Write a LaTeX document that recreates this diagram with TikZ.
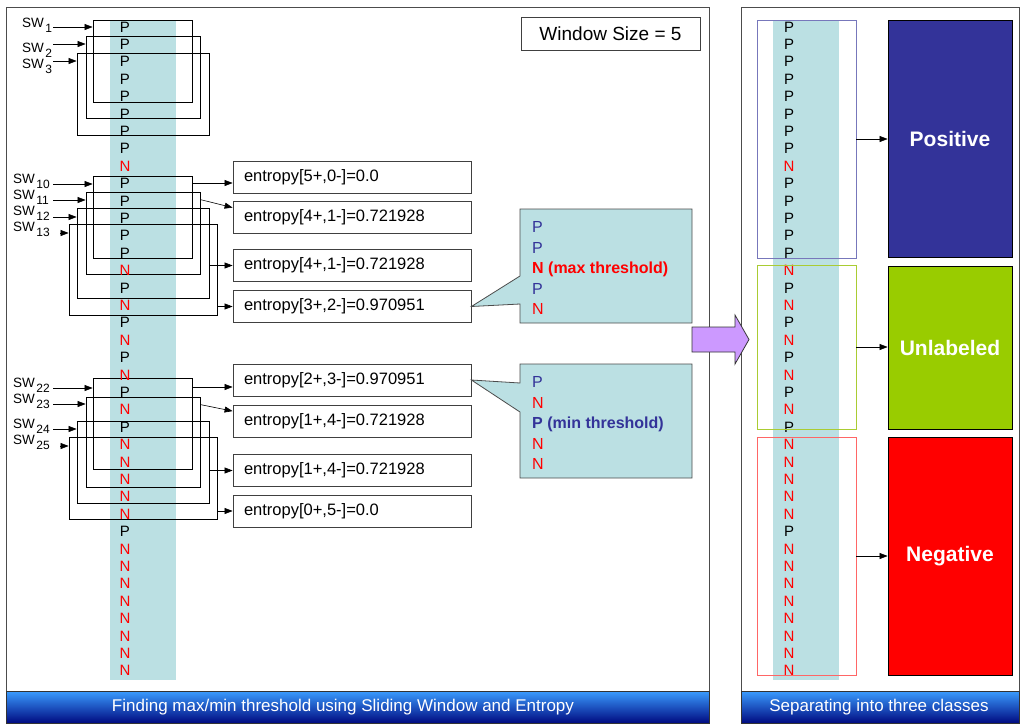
\documentclass[tikz,border=0pt]{standalone}
\usepackage{fontspec}
\setmainfont{Liberation Sans}
\usetikzlibrary{arrows.meta,calc}

\definecolor{cteal}{HTML}{BBE0E3}
\definecolor{nred}{HTML}{FF0000}
\definecolor{pblue}{HTML}{333399}
\definecolor{bantop}{HTML}{3A9CFF}
\definecolor{banbot}{HTML}{000A80}
\definecolor{purp}{HTML}{CC99FF}
\definecolor{posfill}{HTML}{333399}
\definecolor{unlfill}{HTML}{99CC00}
\definecolor{negfill}{HTML}{FF0000}
\definecolor{posline}{HTML}{7777BB}
\definecolor{unlline}{HTML}{AACC33}
\definecolor{negline}{HTML}{FF6666}

\newcommand{\swlab}[1]{SW\kern1.5pt\raisebox{-5pt}{\fontsize{12}{12}\selectfont #1}}

\begin{document}
\begin{tikzpicture}[x=1pt,y=-1pt,
    arr/.style={-{Triangle[length=8pt,width=6pt]},line width=0.6pt},
    win/.style={draw=black,line width=0.8pt,inner sep=0pt},
    ent/.style={draw=black!75,line width=0.8pt,minimum width=238pt,minimum height=32pt,inner sep=0pt,text width=216pt,align=left,font=\fontsize{16.5}{19}\selectfont},
    letP/.style={inner sep=0pt,font=\fontsize{15}{15}\selectfont},
    letN/.style={letP,text=nred},
    sw/.style={anchor=base west,inner sep=0pt,font=\fontsize{13.5}{13.5}\selectfont},
    panel/.style={draw=black!70,line width=1pt,fill=white,inner sep=0pt},
    banner/.style={top color=bantop,bottom color=banbot,draw=black!80,line width=0.6pt,inner sep=0pt,minimum height=32pt},
    bantext/.style={text=white,inner sep=0pt,font=\fontsize{17}{17}\selectfont},
    callout/.style={fill=cteal,draw=black!70,line width=0.8pt},
    ctext/.style={anchor=north west,align=left,inner sep=0pt,text=pblue,font=\fontsize{16}{20.5}\selectfont},
    grp/.style={line width=0.8pt,inner sep=0pt,minimum width=99pt},
    cls/.style={draw=black,line width=0.8pt,inner sep=0pt,minimum width=124pt,text=white,font=\bfseries\fontsize{21}{21}\selectfont}]
\useasboundingbox (0,0) rectangle (1021,724);

% panels
\node[panel,minimum width=703pt,minimum height=684pt] (pl) at (357.5,349) {};
\node[panel,minimum width=278pt,minimum height=684pt] (pr) at (880,349) {};
\node[banner,minimum width=703pt] (bl) at (357.5,707) {};
\node[banner,minimum width=278pt] (br) at (880,707) {};
\node[bantext] (tl) at (343,707) {Finding max/min threshold using Sliding Window and Entropy};
\node[bantext] (tr) at (879,707) {Separating into three classes};

\fill[cteal] (110,20) rectangle (176,680);
\fill[cteal] (773,20) rectangle (839,680);

% sliding windows
\node[win,minimum width=99pt,minimum height=82pt] (w1) at (142.5,61) {};
\node[win,minimum width=114pt,minimum height=82pt] (w2) at (143,77) {};
\node[win,minimum width=132pt,minimum height=82pt] (w3) at (143,94) {};

\node[win,minimum width=99pt,minimum height=82pt] (w10) at (142.5,217) {};
\node[win,minimum width=114pt,minimum height=82pt] (w11) at (143,233) {};
\node[win,minimum width=132pt,minimum height=90pt] (w12) at (143,253) {};
\node[win,minimum width=148pt,minimum height=91pt] (w13) at (143,269.5) {};

\node[win,minimum width=99pt,minimum height=91pt] (w22) at (142.5,423.5) {};
\node[win,minimum width=114pt,minimum height=90pt] (w23) at (143,442) {};
\node[win,minimum width=132pt,minimum height=82pt] (w24) at (143,462) {};
\node[win,minimum width=148pt,minimum height=82pt] (w25) at (143,478) {};

% class sequence
\foreach \c [count=\i from 0] in {P,P,P,P,P,P,P,P,N,P,P,P,P,P,N,P,N,P,N,P,N,P,N,P,N,N,N,N,N,P,N,N,N,N,N,N,N,N}{
    \node[let\c] (a\i) at (125,{27+17.4*\i}) {\c};
    \node[let\c] (b\i) at (789,{27+17.4*\i}) {\c};
}

\node[sw] (s1) at (22,27) {\swlab{1}};
\node[sw] (s2) at (22,52) {\swlab{2}};
\node[sw] (s3) at (22,68) {\swlab{3}};
\node[sw] (s10) at (13,183) {\swlab{10}};
\node[sw] (s11) at (13,199) {\swlab{11}};
\node[sw] (s12) at (13,215) {\swlab{12}};
\node[sw] (s13) at (13,231) {\swlab{13}};
\node[sw] (s22) at (13,387) {\swlab{22}};
\node[sw] (s23) at (13,403) {\swlab{23}};
\node[sw] (s24) at (13,428) {\swlab{24}};
\node[sw] (s25) at (13,444) {\swlab{25}};

\coordinate (p1) at (53,27);
\coordinate (p2) at (53,44);
\coordinate (p3) at (53,61);
\coordinate (p10) at (53,184);
\coordinate (p11) at (53,200);
\coordinate (p12) at (53,217);
\coordinate (p13) at (60,233);
\coordinate (p22) at (53,388);
\coordinate (p23) at (53,404);
\coordinate (p24) at (53,429);
\coordinate (p25) at (60,446);

\draw[arr] (p1) -- (p1 -| w1.west);
\draw[arr] (p2) -- (p2 -| w2.west);
\draw[arr] (p3) -- (p3 -| w3.west);
\draw[arr] (p10) -- (p10 -| w10.west);
\draw[arr] (p11) -- (p11 -| w11.west);
\draw[arr] (p12) -- (p12 -| w12.west);
\draw[arr] (p13) -- (p13 -| w13.west);
\draw[arr] (p22) -- (p22 -| w22.west);
\draw[arr] (p23) -- (p23 -| w23.west);
\draw[arr] (p24) -- (p24 -| w24.west);
\draw[arr] (p25) -- (p25 -| w25.west);

\node[draw=black!75,line width=0.8pt,minimum width=179pt,minimum height=33pt,font=\fontsize{19}{19}\selectfont] (ws) at (610.5,33.5) {Window Size = 5};

% entropy values
\node[ent] (e1) at (352,177) {entropy[5+,0-]=0.0};
\node[ent] (e2) at (352,217) {entropy[4+,1-]=0.721928};
\node[ent] (e3) at (352,265.5) {entropy[4+,1-]=0.721928};
\node[ent] (e4) at (352,306.5) {entropy[3+,2-]=0.970951};
\node[ent] (e5) at (352,380) {entropy[2+,3-]=0.970951};
\node[ent] (e6) at (352,421.5) {entropy[1+,4-]=0.721928};
\node[ent] (e7) at (352,470.5) {entropy[1+,4-]=0.721928};
\node[ent] (e8) at (352,511) {entropy[0+,5-]=0.0};

\draw[arr] ($(e1.west -| w10.east)+(0,6)$) -- ($(e1.west)+(0,6)$);
\draw[arr] ($(w11.north east)+(0,8)$) -- ($(e2.north west)+(0,7)$);
\draw[arr] (e3.west -| w12.east) -- (e3.west);
\draw[arr] (e4.west -| w13.east) -- (e4.west);
\draw[arr] ($(e5.west -| w22.east)+(0,7)$) -- ($(e5.west)+(0,7)$);
\draw[arr] ($(w23.north east)+(0,8)$) -- ($(e6.north west)+(0,6)$);
\draw[arr] (e7.west -| w24.east) -- (e7.west);
\draw[arr] (e8.west -| w25.east) -- (e8.west);

% thresholds
\draw[callout] (520,209) -- (692,209) -- (692,323) -- (520,323) -- (520,304) -- (e4.east) -- (520,276) -- cycle;
\node[ctext] (c1) at (532,221.3) {P\\P\\\textcolor{nred}{\textbf{N (max threshold)}}\\P\\\textcolor{nred}{N}};
\draw[callout] (520,364) -- (692,364) -- (692,478) -- (520,478) -- (520,412) -- (e5.east) -- (520,383) -- cycle;
\node[ctext] (c2) at (532,376.3) {P\\\textcolor{nred}{N}\\\textbf{P (min threshold)}\\\textcolor{nred}{N}\\\textcolor{nred}{N}};

% three classes
\node[grp,draw=posline,minimum height=238pt] (gpos) at (806.5,139) {};
\node[grp,draw=unlline,minimum height=164pt] (gunl) at (806.5,347) {};
\node[grp,draw=negline,minimum height=238pt] (gneg) at (806.5,556) {};

\node[cls,fill=posfill,minimum height=237pt] (cpos) at (950,138.5) {Positive};
\node[cls,fill=unlfill,minimum height=163pt] (cunl) at (950,347.5) {Unlabeled};
\node[cls,fill=negfill,minimum height=238pt] (cneg) at (950,556) {Negative};

\draw[arr] (gpos.east) -- (gpos.east -| cpos.west);
\draw[arr] (gunl.east) -- (gunl.east -| cunl.west);
\draw[arr] (gneg.east) -- (gneg.east -| cneg.west);

\draw[fill=purp,draw=black!80,line width=0.8pt] (692,327) -- (735,327) -- (735,315) -- (749,339.5) -- (735,364) -- (735,352) -- (692,352) -- cycle;
\end{tikzpicture}
\end{document}
